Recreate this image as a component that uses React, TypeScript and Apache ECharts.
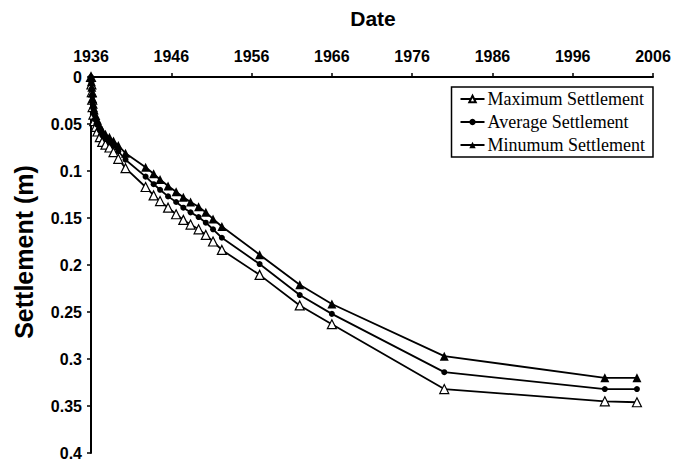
import React, { useEffect, useRef } from "react";
import * as echarts from "echarts";

const years = [1936.0, 1936.05, 1936.1, 1936.15, 1936.2, 1936.3, 1936.4, 1936.6, 1936.8, 1937.1, 1937.4, 1937.8, 1938.3, 1938.8, 1939.4, 1940.3, 1942.8, 1943.8, 1944.6, 1945.6, 1946.6, 1947.5, 1948.4, 1949.4, 1950.3, 1951.2, 1952.3, 1957, 1962, 1966, 1980, 2000, 2004];

const maxSettlement = [0, 0.008, 0.016, 0.024, 0.032, 0.040, 0.047, 0.053, 0.058, 0.064, 0.069, 0.072, 0.075, 0.080, 0.087, 0.097, 0.117, 0.126, 0.132, 0.139, 0.146, 0.152, 0.157, 0.162, 0.168, 0.175, 0.184, 0.2105, 0.243, 0.263, 0.332, 0.345, 0.346];

const avgSettlement = [0, 0.006, 0.013, 0.020, 0.027, 0.034, 0.040, 0.046, 0.051, 0.057, 0.062, 0.066, 0.069, 0.073, 0.079, 0.088, 0.106, 0.114, 0.120, 0.127, 0.133, 0.139, 0.144, 0.149, 0.155, 0.162, 0.171, 0.199, 0.232, 0.252, 0.314, 0.332, 0.332];

const minSettlement = [0, 0.005, 0.011, 0.017, 0.023, 0.029, 0.035, 0.041, 0.046, 0.052, 0.057, 0.061, 0.064, 0.068, 0.073, 0.081, 0.096, 0.103, 0.109, 0.116, 0.122, 0.128, 0.133, 0.138, 0.144, 0.151, 0.159, 0.189, 0.221, 0.2415, 0.297, 0.320, 0.320];

const seriesNames = ["Maximum Settlement", "Average Settlement", "Minumum Settlement"];

const xTitle = "Date";
const yTitle = "Settlement (m)";

function pairs(vals: number[]) {
  return years.map((y, i) => [y, vals[i]]);
}

export default function App() {
  const ref = useRef<HTMLDivElement>(null);
  useEffect(() => {
    if (!ref.current) return;
    const chart = echarts.init(ref.current, null, { renderer: "svg" });
    const axisFont = { fontFamily: "Liberation Sans, Arial, sans-serif", fontWeight: "bold" as const, fontSize: 16, color: "#000" };
    const lineStyle = { color: "#000", width: 1.8 };
    chart.setOption({
      animation: false,
      backgroundColor: "#fff",
      grid: { left: 91, right: 35, top: 77, bottom: 5 },
      xAxis: {
        type: "value",
        position: "top",
        min: 1936,
        max: 2006,
        interval: 10,
        splitLine: { show: false },
        axisLine: { show: true, lineStyle: { color: "#000", width: 2 } },
        axisTick: { show: true, inside: false, length: 4, lineStyle: { color: "#000", width: 1.5 } },
        axisLabel: { ...axisFont, margin: 13, formatter: (v: number) => String(v) },
      },
      yAxis: {
        type: "value",
        inverse: true,
        min: 0,
        max: 0.4,
        interval: 0.05,
        splitLine: { show: false },
        axisLine: { show: true, lineStyle: { color: "#000", width: 2 } },
        axisTick: { show: true, inside: false, length: 4, lineStyle: { color: "#000", width: 1.5 } },
        axisLabel: { ...axisFont, margin: 9, formatter: (v: number) => String(Math.round(v * 100) / 100) },
      },
      legend: {
        orient: "vertical",
        right: 35,
        top: 87,
        itemWidth: 24,
        itemHeight: 8,
        itemGap: 5,
        padding: [3, 8, 3, 8],
        borderColor: "#000",
        borderWidth: 1.5,
        backgroundColor: "#fff",
        textStyle: { fontFamily: "Liberation Serif, Times New Roman, serif", fontSize: 18, color: "#000", padding: [0, 0, 0, -2] },
        data: seriesNames,
      },
      graphic: [
        {
          type: "text",
          x: 373,
          y: 18,
          style: { text: xTitle, font: "bold 21px Liberation Sans, Arial, sans-serif", fill: "#000", textAlign: "center", textVerticalAlign: "middle" },
        },
        {
          type: "text",
          x: 24,
          y: 252,
          rotation: Math.PI / 2,
          style: { text: yTitle, font: "bold 25px Liberation Sans, Arial, sans-serif", fill: "#000", textAlign: "center", textVerticalAlign: "middle" },
        },
      ],
      series: [
        {
          name: seriesNames[0],
          type: "line",
          data: pairs(maxSettlement),
          symbol: "triangle",
          symbolSize: 9,
          lineStyle,
          itemStyle: { color: "#fff", borderColor: "#000", borderWidth: 1.2 },
          z: 3,
        },
        {
          name: seriesNames[1],
          type: "line",
          data: pairs(avgSettlement),
          symbol: "circle",
          symbolSize: 6,
          lineStyle,
          itemStyle: { color: "#000", borderColor: "#000", borderWidth: 0 },
          z: 3,
        },
        {
          name: seriesNames[2],
          type: "line",
          data: pairs(minSettlement),
          symbol: "triangle",
          symbolSize: 9,
          lineStyle,
          itemStyle: { color: "#000", borderColor: "#000", borderWidth: 0 },
          z: 3,
        },
      ],
    });
    return () => chart.dispose();
  }, []);
  return <div ref={ref} style={{ width: 688, height: 461, position: "fixed", left: 0, top: 0 }} />;
}
